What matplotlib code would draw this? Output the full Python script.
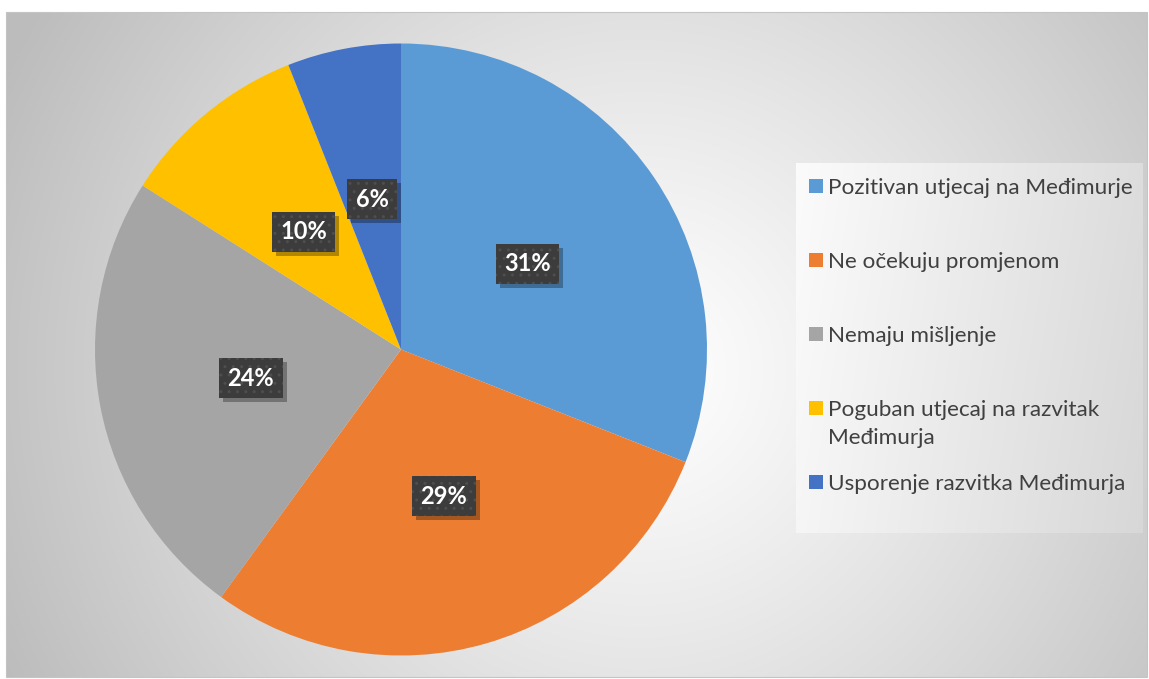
import textwrap
import numpy as np
import matplotlib
matplotlib.use("Agg")
import matplotlib.pyplot as plt
from matplotlib.patches import Rectangle
import matplotlib.transforms as mtransforms

# Survey answers and their shares (%)
categories = [
    "Pozitivan utjecaj na Međimurje",
    "Ne očekuju promjenom",
    "Nemaju mišljenje",
    "Poguban utjecaj na razvitak Međimurja",
    "Usporenje razvitka Međimurja",
]
shares = [31, 29, 24, 10, 6]
colors = ["#5B9BD5", "#ED7D31", "#A5A5A5", "#FFC000", "#4472C4"]

W, H = 1149, 679
fig = plt.figure(figsize=(W / 100, H / 100), dpi=100)
fig.patch.set_facecolor("white")

# Background layer in pixel coordinates
bg = fig.add_axes([0, 0, 1, 1])
bg.set_xlim(0, W)
bg.set_ylim(H, 0)
bg.axis("off")

# Chart area with radial gray gradient
x0, x1, y0, y1 = 6, 1147, 12, 677
xs = np.linspace(x0, x1, 600)
ys = np.linspace(y0, y1, 360)
X, Y = np.meshgrid(xs, ys)
cx, cy = 640, 370
d = np.hypot(X - cx, Y - cy)
t = np.clip(d / 700.0, 0, 1)
val = 1.0 - 0.26 * t ** 1.15
img = np.dstack([val, val, val])
bg.imshow(img, extent=(x0, x1, y1, y0), origin="upper", aspect="auto",
          interpolation="bilinear", zorder=0)
bg.add_patch(Rectangle((x0, y0), x1 - x0, y1 - y0, fill=False,
                       edgecolor="#c4c4c4", linewidth=0.8, zorder=1))

# Legend panel with a soft left-to-right gradient
lx0, lx1, ly0, ly1 = 796, 1143, 163, 533
lxs = np.linspace(0, 1, 300)
lys = np.linspace(0, 1, 300)
LX, LY = np.meshgrid(lxs, lys)
lv = 0.985 - 0.14 * (0.85 * LX + 0.15 * LY)
limg = np.dstack([lv, lv, lv])
bg.imshow(limg, extent=(lx0, lx1, ly1, ly0), origin="upper", aspect="auto",
          interpolation="bilinear", zorder=2)

legend_font = "Lato"
row0, row_step, line_step = 186, 74, 29
for i, (name, col) in enumerate(zip(categories, colors)):
    yc = row0 + row_step * i
    bg.add_patch(Rectangle((809, yc - 7), 14, 14, facecolor=col,
                           edgecolor="none", zorder=3))
    for k, line in enumerate(textwrap.wrap(name, 30)):
        bg.text(828, yc + 7.5 + k * line_step, line, fontsize=16.2,
                family=legend_font, color="#404040", va="baseline",
                ha="left", zorder=3)

# Pie
R = 306
pcx, pcy = 401, 349.5
ax = fig.add_axes([(pcx - R) / W, (H - pcy - R) / H, 2 * R / W, 2 * R / H])
wedges, _ = ax.pie(shares, colors=colors, startangle=90, counterclock=False,
                   radius=1.0, wedgeprops=dict(linewidth=0))
ax.set_xlim(-1, 1)
ax.set_ylim(-1, 1)
ax.set_aspect("equal")
ax.axis("off")

# Percentage labels in dark boxes
total = sum(shares)
cum = 0
labels = []
for s in shares:
    mid = 90 - (cum + s / 2) / total * 360
    cum += s
    px = 0.5 * np.cos(np.radians(mid))
    py = 0.5 * np.sin(np.radians(mid))
    t_ = ax.text(px, py, f"{s}%", ha="center", va="center", fontsize=17,
                 family="Lato", weight="bold", color="white", zorder=5,
                 bbox=dict(boxstyle="square,pad=0.36", facecolor="#3c3c3c",
                           edgecolor="#4e4e4e", linewidth=0, hatch=".."))
    labels.append(t_)

# Drop shadows behind the label boxes
fig.canvas.draw()
renderer = fig.canvas.get_renderer()
for t_ in labels:
    ext = t_.get_bbox_patch().get_window_extent(renderer)
    shadow = Rectangle((ext.x0 + 4, ext.y0 - 4), ext.width, ext.height,
                       facecolor="black", alpha=0.3, edgecolor="none",
                       zorder=4)
    ax.add_patch(shadow)
    shadow.set_transform(mtransforms.IdentityTransform())

fig.savefig("out.png", dpi=100, facecolor="white")
